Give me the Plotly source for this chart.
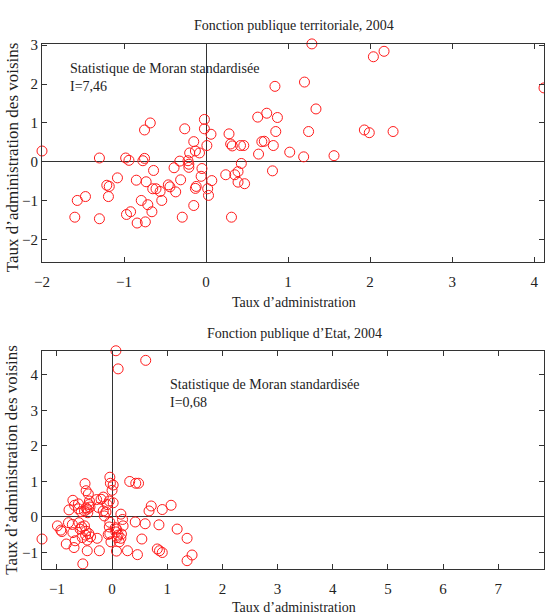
import plotly.graph_objects as go

# ---- Data: Fonction publique territoriale, 2004 ----
top_x = [-2.00, -1.30, -0.98, -0.94, -0.77, -0.75, -0.75, -0.68, -0.26, -0.02,
         -0.02, -0.15, -0.20, -0.13, -0.08, -0.32, -0.22, -0.21, -0.21, -0.39,
         -0.05, -0.06, -0.64, -1.08, -0.85, -0.73, -0.46, -0.44, -0.31, -0.61,
         -0.65, -0.56, -0.37, -0.12, -0.13, -1.21, -1.18, -1.19, -1.47, -1.57,
         -0.79, -0.71, -0.54, -0.66, -0.15, -0.97, -0.92, -0.84, -0.74, -1.60,
         -1.30, -0.29, -0.92,
         0.01, 0.06, 0.28, 0.30, 0.32, 0.42, 0.46, 0.68, 0.71, 0.82,
         0.85, 1.25, 0.64, 1.02, 1.19, 1.56, 1.93, 1.99, 2.28, 0.63,
         0.74, 0.87, 0.84, 1.20, 1.34, 1.29, 2.04, 2.17, 4.12, 0.43,
         0.81, 0.07, 0.24, 0.35, 0.39, 0.39, 0.47, 0.02, 0.03, 0.31]
top_y = [0.28, 0.10, 0.10, 0.04, 0.03, 0.09, 0.82, 1.00, 0.85, 1.09,
         0.85, 0.52, 0.23, 0.28, 0.23, 0.02, 0.03, -0.06, -0.14, -0.15,
         -0.17, -0.37, -0.22, -0.41, -0.47, -0.51, -0.59, -0.64, -0.46, -0.69,
         -0.69, -0.76, -0.77, -0.63, -0.68, -0.60, -0.63, -0.89, -0.89, -0.99,
         -0.99, -1.10, -0.99, -1.28, -1.12, -1.35, -1.28, -1.57, -1.54, -1.42,
         -1.46, -1.42, -2.60,
         0.42, 0.71, 0.72, 0.46, 0.41, 0.42, 0.42, 0.52, 0.53, 0.42,
         0.78, 0.78, 0.20, 0.25, 0.13, 0.16, 0.82, 0.75, 0.78, 1.15,
         1.25, 1.14, 1.94, 2.05, 1.36, 3.03, 2.70, 2.84, 1.90, -0.04,
         -0.23, -0.48, -0.33, -0.33, -0.25, -0.52, -0.56, -0.69, -0.86, -1.42]

# ---- Data: Fonction publique d'Etat, 2004 ----
bot_x = [0.07, 0.11, 0.61, 7.84,
         -0.04, -0.03, 0.02, 0.00, 0.02,
         0.32, 0.43, 0.48,
         -0.49, -0.47, -0.43,
         -0.71, -0.68, -0.78,
         -0.61, -0.56, -0.61,
         -0.50, -0.47, -0.44, -0.42, -0.41, -0.45, -0.40,
         -0.28, -0.20, -0.16, -0.25, -0.16, -0.14, -0.09, -0.05, -0.11,
         0.16, 0.67, 0.71, 0.91, 1.07,
         -1.27, -0.99, -0.93, -0.91,
         -0.83, -0.79, -0.71, -0.69, -0.67, -0.72,
         -0.69, -0.53,
         -0.60, -0.58, -0.54, -0.55,
         -0.50, -0.47, -0.42, -0.45, -0.39, -0.48,
         -0.45, -0.27, -0.23,
         -0.05, -0.04, -0.02, -0.07, -0.04,
         0.06, 0.08, 0.11, 0.07, 0.16, 0.13, 0.09, 0.08,
         0.19, 0.20, 0.17,
         0.28, 0.42, 0.46, 0.54, 0.60,
         0.82, 0.86, 0.91, 0.85,
         1.18, 1.36, 1.36, 1.45]
bot_y = [4.68, 4.17, 4.41, 0.54,
         1.12, 0.95, 0.90, 0.75, 0.40,
         1.00, 0.95, 0.95,
         0.94, 0.74, 0.65,
         0.47, 0.33, 0.20,
         0.23, 0.15, 0.37,
         0.17, 0.26, 0.12, 0.35, 0.45, 0.22, 0.28,
         0.49, 0.50, 0.56, 0.27, 0.17, 0.03, 0.35, 0.45, 0.14,
         0.08, 0.17, 0.31, 0.21, 0.33,
         -0.62, -0.25, -0.37, -0.41,
         -0.76, -0.16, -0.44, -0.86, -0.67, -0.21,
         -1.47, -1.32,
         -0.16, -0.34, -0.58, -0.28,
         -0.25, -0.40, -0.47, -0.65, -0.56, -0.51,
         -0.95, -0.60, -0.95,
         -0.28, -0.47, -0.70, -0.49, -0.15,
         -0.30, -0.34, -0.51, -0.42, -0.60, -0.70, -0.58, -0.96,
         -0.07, -0.25, -0.48,
         -0.95, -0.14, -1.06, -0.62, -0.19,
         -0.90, -0.95, -1.00, -0.22,
         -0.34, -0.60, -1.23, -1.07]

top_xticks = [-2, -1, 0, 1, 2, 3, 4]
top_yticks = [-2, -1, 0, 1, 2, 3]
bot_xticks = [-1, 0, 1, 2, 3, 4, 5, 6, 7]
bot_yticks = [-1, 0, 1, 2, 3, 4]

FONT = "Liberation Serif"
AX = "#333333"

marker = dict(symbol="circle-open", size=10, color="#ff1a1a", line=dict(width=1, color="#ff1a1a"))

fig = go.Figure()
fig.add_trace(go.Scatter(x=top_x, y=top_y, mode="markers", marker=marker,
                         xaxis="x", yaxis="y", cliponaxis=False, showlegend=False))
fig.add_trace(go.Scatter(x=bot_x, y=bot_y, mode="markers", marker=marker,
                         xaxis="x2", yaxis="y2", cliponaxis=False, showlegend=False))

def axis(rng, ticks, domain=None, anchor=None, xaxis=True):
    d = dict(range=rng, tickvals=ticks, ticks="inside", ticklen=5, tickwidth=1,
             tickcolor=AX, showline=True, linecolor=AX, linewidth=1, mirror="ticks",
             showgrid=False, zeroline=True, zerolinecolor=AX, zerolinewidth=1.2,
             tickfont=dict(family=FONT, size=15, color="#222"), anchor=anchor)
    if domain is not None:
        d["domain"] = domain
    if xaxis:
        d["ticklabelstandoff"] = 6
    return d

fig.update_layout(
    width=545, height=615,
    margin=dict(l=42, r=1, t=0, b=0),
    paper_bgcolor="white", plot_bgcolor="white",
    xaxis=axis([-2.0, 4.12], top_xticks, domain=[0, 1], anchor="y"),
    yaxis=axis([-2.58, 3.03], top_yticks, domain=[0.580, 0.9393], anchor="x", xaxis=False),
    xaxis2=axis([-1.27, 7.83], bot_xticks, domain=[0, 1], anchor="y2"),
    yaxis2=axis([-1.46, 4.68], bot_yticks, domain=[0.0759, 0.4346], anchor="x2", xaxis=False),
)

tf = dict(family=FONT, size=14, color="#222")
ann = [
    dict(text="Fonction publique territoriale, 2004", x=0.502, y=0.9700),
    dict(text="Taux d’administration", x=0.502, y=0.5138),
    dict(text="Fonction publique d’Etat, 2004", x=0.502, y=0.4634),
    dict(text="Taux d’administration", x=0.502, y=0.0125),
]
for a in ann:
    fig.add_annotation(xref="paper", yref="paper", showarrow=False, font=tf,
                       xanchor="center", yanchor="middle", **a)

fig.add_annotation(xref="paper", yref="paper", x=0.0518, y=0.8837, showarrow=False,
                   xanchor="left", yanchor="middle", align="left", font=tf,
                   text="Statistique de Moran standardisée<br>I=7,46")
fig.add_annotation(xref="paper", yref="paper", x=0.251, y=0.3642, showarrow=False,
                   xanchor="left", yanchor="middle", align="left", font=tf,
                   text="Statistique de Moran standardisée<br>I=0,68")

for yc in (0.7528, 0.2553):
    fig.add_annotation(xref="paper", yref="paper", x=-0.0598, y=yc, showarrow=False,
                       textangle=-90, xanchor="center", yanchor="middle",
                       font=dict(family=FONT, size=17, color="#222"),
                       text="Taux d’administration des voisins")

fig.write_html("out.html",
               config={"displayModeBar": False},
               post_script="document.body.style.margin='0px';document.body.style.overflow='hidden';")
